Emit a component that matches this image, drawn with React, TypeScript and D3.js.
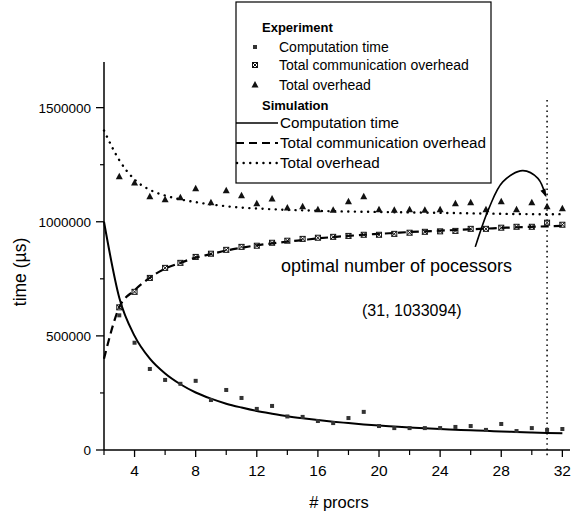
import React from "react";
import * as d3 from "d3";

const SIM_PROCS = [2,3,4,5,6,7,8,9,10,11,12,13,14,15,16,17,18,19,20,21,22,23,24,25,26,27,28,29,30,31,32];
const SIM_COMP = [1000000,667000,500000,400000,335000,288000,252000,225000,203000,186000,171000,159000,148000,139000,131000,124000,118000,112000,107000,103000,99000,95000,92000,89000,86000,84000,81000,79000,77000,75000,73000];
const SIM_COMM = [400000,625000,700000,755000,795000,820000,843000,858000,874000,886000,897000,905000,913000,920000,927000,933000,938000,943000,947000,951000,955000,958000,961000,964000,967000,970000,973000,976000,978000,980000,982000];
const SIM_TOTAL = [1400000,1270000,1185000,1140000,1115000,1098000,1086000,1076000,1068000,1062000,1058000,1055000,1052000,1050000,1048000,1046000,1045000,1044000,1043000,1042000,1041000,1040000,1039000,1038000,1037000,1036000,1035000,1034000,1033500,1033094,1033500];

const EXP_PROCS = [3,4,5,6,7,8,9,10,11,12,13,14,15,16,17,18,19,20,21,22,23,24,25,26,27,28,29,30,31,32];
const EXP_COMP = [590000,470000,355000,307000,290000,303000,219000,263000,228000,180000,193000,147000,145000,127000,118000,140000,167000,105000,96000,96000,96000,96000,101000,105000,88000,114000,83000,96000,88000,92000];
const EXP_COMM = [625000,693000,754000,798000,820000,846000,860000,877000,890000,895000,908000,917000,925000,930000,934000,938000,943000,943000,947000,952000,956000,958000,960000,969000,969000,974000,978000,978000,996000,987000];
const EXP_TOTAL = [1197000,1170000,1110000,1096000,1105000,1145000,1083000,1136000,1114000,1079000,1100000,1060000,1066000,1053000,1050000,1088000,1110000,1053000,1050000,1053000,1050000,1053000,1079000,1083000,1053000,1088000,1053000,1083000,1066000,1057000];

const X_MAJOR = [4,8,12,16,20,24,28,32];
const X_MINOR = [2,6,10,14,18,22,26,30];
const Y_MAJOR = [0,500000,1000000,1500000];
const Y_MINOR = [250000,750000,1250000];

const OPTIMAL_X = 31;
const OPTIMAL_LABEL = "(31, 1033094)";
const ARROW_PTS: [number, number][] = [[26.3,890000],[27.2,1060000],[28.1,1175000],[29.4,1224000],[30.4,1190000],[30.9,1115000]];

const FONT = "'Liberation Sans', Arial, sans-serif";

function CompMarker({ cx, cy }: { cx: number; cy: number }) {
  return <rect x={cx - 2} y={cy - 2} width={4} height={4} fill="#333" />;
}
function CommMarker({ cx, cy }: { cx: number; cy: number }) {
  return (
    <g stroke="#111" strokeWidth={1} fill="none">
      <rect x={cx - 2.5} y={cy - 2.5} width={5} height={5} />
      <line x1={cx - 2.5} y1={cy - 2.5} x2={cx + 2.5} y2={cy + 2.5} />
      <line x1={cx + 2.5} y1={cy - 2.5} x2={cx - 2.5} y2={cy + 2.5} />
    </g>
  );
}
function TotalMarker({ cx, cy }: { cx: number; cy: number }) {
  return <path d={`M${cx},${cy - 4}L${cx + 3.5},${cy + 2.5}L${cx - 3.5},${cy + 2.5}Z`} fill="#111" />;
}

export default function App() {
  const W = 572, H = 513;
  const x = d3.scaleLinear().domain([2, 32.5]).range([104, 570]);
  const y = d3.scaleLinear().domain([0, 1700000]).range([450, 62]);

  const mk = (vals: number[]) =>
    d3.line<number>().x((_, i) => x(SIM_PROCS[i])).y((v) => y(v)).curve(d3.curveMonotoneX)(vals) || "";

  const arrowPath = d3.line<[number, number]>().x((d) => x(d[0])).y((d) => y(d[1])).curve(d3.curveCatmullRom)(ARROW_PTS) || "";
  const last = ARROW_PTS[ARROW_PTS.length - 1];
  const prev = ARROW_PTS[ARROW_PTS.length - 2];
  const ax = x(last[0]), ay = y(last[1]);
  const ang = Math.atan2(ay - y(prev[1]), ax - x(prev[0]));
  const ah = 7;
  const head = `M${ax + Math.cos(ang) * 2},${ay + Math.sin(ang) * 2}L${ax - ah * Math.cos(ang - 0.4)},${ay - ah * Math.sin(ang - 0.4)}L${ax - ah * Math.cos(ang + 0.4)},${ay - ah * Math.sin(ang + 0.4)}Z`;

  const lx = 236, lw = 255;
  return (
    <svg width={W} height={H} style={{ position: "absolute", left: 0, top: 0, background: "#fff" }} fontFamily={FONT}>
      {/* optimal vertical */}
      <line x1={x(OPTIMAL_X)} x2={x(OPTIMAL_X)} y1={100} y2={458} stroke="#111" strokeWidth={1.6} strokeDasharray="1.6,3.6" />

      {/* simulation lines */}
      <path d={mk(SIM_COMP)} fill="none" stroke="#000" strokeWidth={2} />
      <path d={mk(SIM_COMM)} fill="none" stroke="#000" strokeWidth={2.2} strokeDasharray="8,5" />
      <path d={mk(SIM_TOTAL)} fill="none" stroke="#000" strokeWidth={2.4} strokeDasharray="0.1,6.5" strokeLinecap="round" />

      {/* experiment markers */}
      {EXP_PROCS.map((p, i) => <CompMarker key={"c" + p} cx={x(p)} cy={y(EXP_COMP[i])} />)}
      {EXP_PROCS.map((p, i) => <CommMarker key={"m" + p} cx={x(p)} cy={y(EXP_COMM[i])} />)}
      {EXP_PROCS.map((p, i) => <TotalMarker key={"t" + p} cx={x(p)} cy={y(EXP_TOTAL[i])} />)}

      {/* axes */}
      <line x1={104} x2={104} y1={y(1700000)} y2={450} stroke="#000" strokeWidth={1.5} />
      <line x1={104} x2={570} y1={450} y2={450} stroke="#000" strokeWidth={1.5} />
      {Y_MAJOR.map((v) => (
        <g key={"ym" + v}>
          <line x1={96} x2={104} y1={y(v)} y2={y(v)} stroke="#000" strokeWidth={1.3} />
          <text x={91} y={y(v)} dy="0.36em" textAnchor="end" fontSize={13.5}>{v}</text>
        </g>
      ))}
      {Y_MINOR.map((v) => <line key={"yn" + v} x1={100} x2={104} y1={y(v)} y2={y(v)} stroke="#000" strokeWidth={1.2} />)}
      {X_MAJOR.map((v) => (
        <g key={"xm" + v}>
          <line x1={x(v)} x2={x(v)} y1={450} y2={457} stroke="#000" strokeWidth={1.3} />
          <text x={x(v)} y={476} textAnchor="middle" fontSize={15.5}>{v}</text>
        </g>
      ))}
      {X_MINOR.map((v) => <line key={"xn" + v} x1={x(v)} x2={x(v)} y1={450} y2={455} stroke="#000" strokeWidth={1.2} />)}

      <text x={339} y={508} textAnchor="middle" fontSize={16.5}># procrs</text>
      <text transform="translate(26,272) rotate(-90)" textAnchor="middle" fontSize={17.5}>time (µs)</text>

      {/* annotation */}
      <path d={arrowPath} fill="none" stroke="#000" strokeWidth={1.6} />
      <path d={head} fill="#000" />
      <text x={281} y={272} fontSize={18}>optimal number of pocessors</text>
      <text x={362} y={316} fontSize={16}>{OPTIMAL_LABEL}</text>

      {/* legend */}
      <rect x={lx} y={2} width={lw} height={181} fill="#fff" stroke="#000" strokeWidth={1.2} />
      <text x={262} y={32} fontSize={13} fontWeight="bold">Experiment</text>
      <CompMarker cx={255} cy={47} />
      <text x={279} y={52} fontSize={14}>Computation time</text>
      <CommMarker cx={255} cy={65} />
      <text x={279} y={70} fontSize={14}>Total communication overhead</text>
      <TotalMarker cx={255} cy={85} />
      <text x={279} y={90} fontSize={14}>Total overhead</text>
      <text x={262} y={110} fontSize={13} fontWeight="bold">Simulation</text>
      <line x1={lx} x2={278} y1={123} y2={123} stroke="#000" strokeWidth={1.5} />
      <text x={280} y={128} fontSize={15.2}>Computation time</text>
      <line x1={lx} x2={278} y1={143} y2={143} stroke="#000" strokeWidth={2} strokeDasharray="8,5" />
      <text x={280} y={148} fontSize={15.2}>Total communication overhead</text>
      <line x1={lx + 1} x2={278} y1={163} y2={163} stroke="#000" strokeWidth={2.4} strokeDasharray="0.1,6.5" strokeLinecap="round" />
      <text x={280} y={168} fontSize={15.2}>Total overhead</text>
    </svg>
  );
}
